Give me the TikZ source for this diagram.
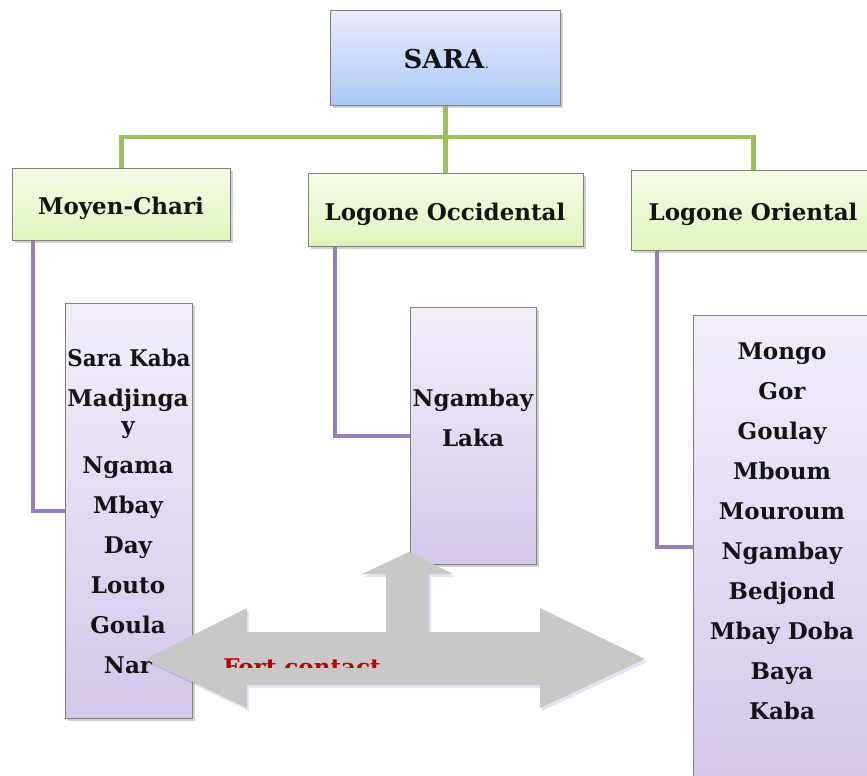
\documentclass[tikz,border=0pt]{standalone}
\usepackage{fontspec}
\setmainfont{DejaVu Serif}
\usetikzlibrary{shadows}
\definecolor{glinecol}{HTML}{9FBF5E}
\definecolor{plinecol}{HTML}{977DBE}
\definecolor{boxborder}{HTML}{808080}
\definecolor{txt}{HTML}{141414}
\definecolor{arrowgray}{HTML}{C8C8C8}
\definecolor{fortred}{HTML}{C00000}
\tikzset{
  basebox/.style={draw=boxborder, line width=0.8pt, inner sep=0pt, anchor=north west,
    drop shadow={shadow xshift=2.5pt, shadow yshift=-3pt, opacity=0.3, fill=black!60}},
  topbox/.style={basebox, top color=blue!8!white, bottom color={rgb,255:red,170;green,200;blue,245}},
  hdrbox/.style={basebox, top color={rgb,255:red,246;green,252;blue,232}, bottom color={rgb,255:red,224;green,244;blue,186}},
  listbox/.style={basebox, top color={rgb,255:red,242;green,238;blue,249}, bottom color={rgb,255:red,212;green,199;blue,235}},
  gline/.style={draw=glinecol, line width=4.5pt},
  pline/.style={draw=plinecol, line width=4pt},
  item/.style={anchor=base, inner sep=0pt, text=txt},
}
\begin{document}
\begin{tikzpicture}[x=1pt, y=-1pt, font=\fontsize{23}{27}\selectfont\bfseries]
\useasboundingbox (0,0) rectangle (867,776);
\begin{scope}
\clip (0,0) rectangle (867,776);
% boxes
\node[topbox, minimum width=230pt, minimum height=95pt] (sara) at (330,10) {};
\node[hdrbox, minimum width=218pt, minimum height=72pt] (mc) at (12,168) {};
\node[hdrbox, minimum width=275pt, minimum height=73pt] (loc) at (308,173) {};
\node[hdrbox, minimum width=244pt, minimum height=80pt] (lor) at (631,170) {};
\node[listbox, minimum width=127pt, minimum height=415pt] (l1) at (65,303) {};
\node[listbox, minimum width=126pt, minimum height=257pt] (l2) at (410,307) {};
\node[listbox, minimum width=180pt, minimum height=464pt] (l3) at (693,315) {};
\coordinate (j) at (sara.south |- 0,137);
% green tree lines
\draw[gline] (sara.south) -- (sara.south |- loc.north);
\draw[gline] (mc.north) |- (j) -| (lor.north);
% purple lines
\draw[pline] ([xshift=21pt]mc.south west) |- (l1.west);
\draw[pline] ([xshift=27pt]loc.south west) |- (l2.west);
\draw[pline] ([xshift=26pt]lor.south west) |- (l3.west);
% titles
\node[item] (tsara) at (446,69) {\fontsize{26}{30}\selectfont SARA\kern1pt{\fontsize{9}{9}\selectfont.}};
\node[item] (tmc) at (121,214) {Moyen-Chari};
\node[item] (tloc) at (445,220) {Logone Occidental};
\node[item] (tlor) at (753,220) {Logone Oriental};
% left list
\node[item] (a1) at (129,366) {\scalebox{0.93}[1]{Sara Kaba}};
\node[item] (a2) at (128,406) {Madjinga};
\node[item] (a2b) at (128,433) {y};
\node[item] (a3) at (128,473) {Ngama};
\node[item] (a4) at (128,513) {Mbay};
\node[item] (a5) at (128,553) {Day};
\node[item] (a6) at (128,593) {Louto};
\node[item] (a7) at (128,633) {Goula};
\node[item] (a8) at (128,673) {Nar};
% middle list
\node[item] (b1) at (473,406) {Ngambay};
\node[item] (b2) at (473,446) {Laka};
% right list
\node[item] (c1) at (782,359) {Mongo};
\node[item] (c2) at (782,399) {Gor};
\node[item] (c3) at (782,439) {Goulay};
\node[item] (c4) at (782,479) {Mboum};
\node[item] (c5) at (782,519) {Mouroum};
\node[item] (c6) at (782,559) {Ngambay};
\node[item] (c7) at (782,599) {Bedjond};
\node[item] (c8) at (782,639) {Mbay Doba};
\node[item] (c9) at (782,679) {Baya};
\node[item] (c10) at (782,719) {Kaba};
% gray arrows
\fill[arrowgray, drop shadow={shadow xshift=2pt, shadow yshift=-3pt, opacity=0.15, fill=blue!50!gray}]
  (145,659) -- (247,608) -- (247,632) -- (386,632) -- (386,574) -- (362,574) -- (409,552)
  -- (453,574) -- (429,574) -- (429,632) -- (540,632) -- (540,608) -- (645,659)
  -- (540,708) -- (540,685) -- (247,685) -- (247,708) -- cycle;
% clipped red label
\begin{scope}
\clip (200,650) rectangle (420,667);
\node[item, text=fortred] (fort) at (302,675) {Fort contact};
\end{scope}
\end{scope}
\end{tikzpicture}
\end{document}
